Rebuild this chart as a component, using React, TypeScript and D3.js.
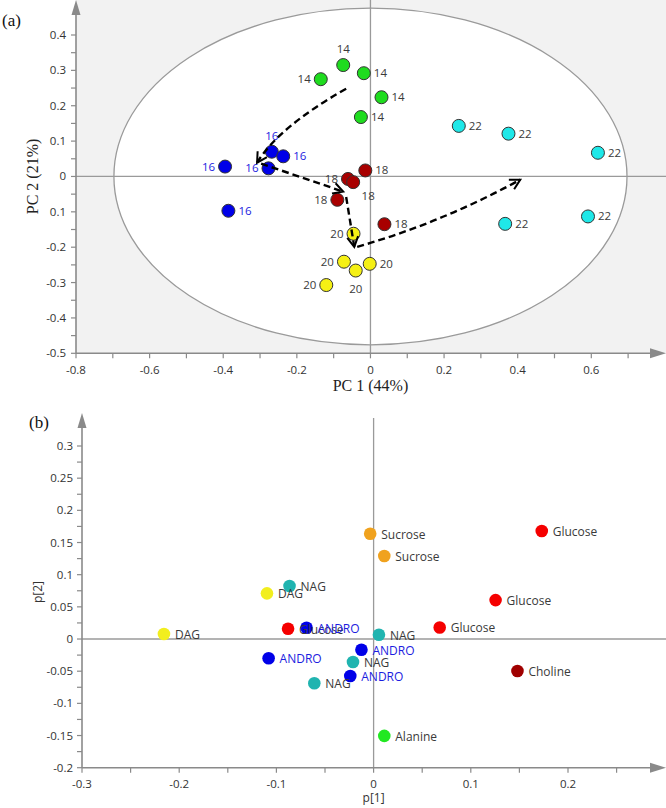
import React from "react";
import * as d3 from "d3";

// ---------- Panel (a): PCA scores ----------
const scoreGroup = [
  "14", "14", "14", "14", "14",
  "16", "16", "16", "16", "16",
  "18", "18", "18", "18", "18",
  "20", "20", "20", "20", "20",
  "22", "22", "22", "22", "22",
];
const scoreX = [
  -0.135, -0.074, -0.018, 0.030, -0.026,
  -0.395, -0.268, -0.237, -0.277, -0.386,
  -0.014, -0.061, -0.047, -0.090, 0.038,
  -0.046, -0.072, -0.040, -0.002, -0.120,
  0.240, 0.375, 0.618, 0.366, 0.591,
];
const scoreY = [
  0.275, 0.315, 0.292, 0.224, 0.168,
  0.028, 0.070, 0.057, 0.023, -0.097,
  0.017, -0.007, -0.016, -0.066, -0.135,
  -0.162, -0.241, -0.266, -0.247, -0.307,
  0.143, 0.121, 0.067, -0.134, -0.113,
];
const scoreLabelPos = [
  "left", "top", "right", "right", "right",
  "left", "top", "right", "left", "right",
  "right", "left", "belowright", "left", "right",
  "left", "left", "bottom", "right", "left",
  "right", "right", "right", "right", "right",
];
const groupFill: Record<string, string> = {
  "14": "#1fdc1f",
  "16": "#0000e8",
  "18": "#a80000",
  "20": "#f5f014",
  "22": "#1fe8e8",
};
const groupText: Record<string, string> = {
  "14": "#3a3a3a",
  "16": "#1c1ce0",
  "18": "#3a3a3a",
  "20": "#3a3a3a",
  "22": "#3a3a3a",
};
const aXTicks = [-0.8, -0.6, -0.4, -0.2, 0, 0.2, 0.4, 0.6];
const aXMinor = [-0.7, -0.5, -0.3, -0.1, 0.1, 0.3, 0.5, 0.7];
const aYTicks = [0.4, 0.3, 0.2, 0.1, 0, -0.1, -0.2, -0.3, -0.4, -0.5];
const aYTickLabels = ["0.4", "0.3", "0.2", "0.1", "0", "0.1", "-0.2", "-0.3", "-0.4", "-0.5"];
const aYMinor = [0.35, 0.25, 0.15, 0.05, -0.05, -0.15, -0.25, -0.35, -0.45];
const ellipseR = [0.697, 0.476];
// trajectory arrows: [start, control, end] in score units
const trajectories: [number, number][][] = [
  [[-0.066, 0.248], [-0.248, 0.141], [-0.308, 0.039]],
  [[-0.297, 0.036], [-0.185, -0.003], [-0.074, -0.043]],
  [[-0.066, -0.058], [-0.055, -0.128], [-0.044, -0.199]],
  [[-0.036, -0.199], [0.195, -0.130], [0.407, -0.009]],
];

// ---------- Panel (b): loadings ----------
const loadName = [
  "Glucose", "Glucose", "Glucose", "Glucose",
  "Sucrose", "Sucrose",
  "NAG", "NAG", "NAG", "NAG",
  "ANDRO", "ANDRO", "ANDRO", "ANDRO",
  "DAG", "DAG",
  "Choline", "Alanine",
];
const loadX = [
  0.173, 0.1255, 0.068, -0.088,
  -0.0035, 0.011,
  -0.0865, 0.0055, -0.0212, -0.061,
  -0.069, -0.0125, -0.024, -0.108,
  -0.1097, -0.2157,
  0.148, 0.011,
];
const loadY = [
  0.168, 0.0605, 0.018, 0.016,
  0.1635, 0.129,
  0.0823, 0.0067, -0.0357, -0.0688,
  0.0176, -0.0166, -0.0575, -0.030,
  0.071, 0.0078,
  -0.0497, -0.1506,
];
const loadFill: Record<string, string> = {
  Glucose: "#f50000",
  Sucrose: "#f0a21e",
  NAG: "#20b4b0",
  ANDRO: "#0000e8",
  DAG: "#f2ee1e",
  Choline: "#a00000",
  Alanine: "#22e822",
};
const loadText: Record<string, string> = {
  Glucose: "#3a3a3a",
  Sucrose: "#3a3a3a",
  NAG: "#3a3a3a",
  ANDRO: "#1c1ce0",
  DAG: "#3a3a3a",
  Choline: "#3a3a3a",
  Alanine: "#3a3a3a",
};
const bXTicks = [-0.3, -0.2, -0.1, 0, 0.1, 0.2];
const bXMinor = [-0.25, -0.15, -0.05, 0.05, 0.15, 0.25];
const bYTicks = [0.3, 0.25, 0.2, 0.15, 0.1, 0.05, 0, -0.05, -0.1, -0.15, -0.2];
const bYMinor = [0.275, 0.225, 0.175, 0.125, 0.075, 0.025, -0.025, -0.075, -0.125, -0.175];

const SANS = "'Open Sans', 'Noto Sans', sans-serif";
const SERIF = "'Liberation Serif', 'DejaVu Serif', serif";
const AXIS = "#8a8a8a";
const ZERO = "#9a9a9a";

export default function App() {
  // panel a scales
  const xa = d3.scaleLinear().domain([-0.8, 0.6]).range([76, 591.3]);
  const ya = d3.scaleLinear().domain([-0.5, 0.4]).range([353.3, 35]);
  // panel b scales
  const xb = d3.scaleLinear().domain([-0.3, 0.2]).range([82, 568]);
  const yb = d3.scaleLinear().domain([-0.2, 0.3]).range([767.7, 446]);

  const aLeft = xa(-0.8);
  const aBottom = ya(-0.5);
  const bLeft = xb(-0.3);
  const bBottom = yb(-0.2);
  const W = 666;

  const labelOffset = (pos: string): [number, number, string] => {
    switch (pos) {
      case "left":
        return [-10, 4, "end"];
      case "top":
        return [0, -12, "middle"];
      case "bottom":
        return [0, 22, "middle"];
      case "belowright":
        return [15, 18, "middle"];
      default:
        return [10, 4, "start"];
    }
  };

  const trajPaths = trajectories.map((t) => {
    const p = d3.path();
    p.moveTo(xa(t[0][0]), ya(t[0][1]));
    p.quadraticCurveTo(xa(t[1][0]), ya(t[1][1]), xa(t[2][0]), ya(t[2][1]));
    return p.toString();
  });

  return (
    <svg
      width={666}
      height={808}
      style={{ position: "absolute", left: 0, top: 0, background: "#fff" }}
    >
      <defs>
        <marker
          id="vhead"
          markerUnits="userSpaceOnUse"
          markerWidth={14}
          markerHeight={14}
          refX={11}
          refY={6}
          orient="auto"
          viewBox="0 0 14 12"
        >
          <path d="M1,0.5 L11,6 L1,11.5" fill="none" stroke="#000" strokeWidth={2} />
        </marker>
        <clipPath id="clipA">
          <rect x={aLeft} y={0} width={W - aLeft} height={aBottom} />
        </clipPath>
      </defs>

      {/* ===== Panel (a) ===== */}
      <rect x={aLeft} y={0} width={W - aLeft} height={aBottom} fill="#f2f2f2" />
      <g clipPath="url(#clipA)">
        <ellipse
          cx={xa(0)}
          cy={ya(0)}
          rx={xa(ellipseR[0]) - xa(0)}
          ry={ya(0) - ya(ellipseR[1])}
          fill="#fff"
          stroke="#9a9a9a"
          strokeWidth={1.3}
        />
      </g>
      <line x1={xa(0)} x2={xa(0)} y1={0} y2={aBottom} stroke={ZERO} strokeWidth={1.3} />
      <line x1={aLeft} x2={W} y1={ya(0)} y2={ya(0)} stroke={ZERO} strokeWidth={1.3} />

      {/* axes a */}
      <line x1={aLeft} x2={aLeft} y1={aBottom} y2={4} stroke={AXIS} strokeWidth={1.6} />
      <path d={`M${aLeft},0 L${aLeft - 4.5},15 L${aLeft + 4.5},15 Z`} fill={AXIS} />
      <line x1={aLeft} x2={W - 4} y1={aBottom} y2={aBottom} stroke={AXIS} strokeWidth={1.6} />
      <path d={`M${W},${aBottom} L${W - 16},${aBottom - 5} L${W - 16},${aBottom + 5} Z`} fill={AXIS} />
      {aXTicks.concat(aXMinor).map((v, i) => (
        <line key={"axt" + i} x1={xa(v)} x2={xa(v)} y1={aBottom} y2={aBottom + 5} stroke={AXIS} strokeWidth={1.2} />
      ))}
      {aXTicks.map((v, i) => (
        <text key={"axl" + i} x={xa(v)} y={aBottom + 21} fontSize={11.5} fontFamily={SANS} fill="#333" textAnchor="middle">
          {v === 0 ? "0" : d3.format(".1f")(v).replace("−", "-")}
        </text>
      ))}
      {aYTicks.concat(aYMinor).map((v, i) => (
        <line key={"ayt" + i} x1={aLeft - 5} x2={aLeft} y1={ya(v)} y2={ya(v)} stroke={AXIS} strokeWidth={1.2} />
      ))}
      {aYTicks.map((v, i) => (
        <text key={"ayl" + i} x={aLeft - 10} y={ya(v) + 4} fontSize={11.5} fontFamily={SANS} fill="#333" textAnchor="end">
          {aYTickLabels[i]}
        </text>
      ))}
      <text x={xa(0)} y={391} fontSize={16} fontFamily={SERIF} fill="#222" textAnchor="middle">
        PC 1 (44%)
      </text>
      <text
        transform={`translate(38,${ya(0)}) rotate(-90)`}
        fontSize={16}
        fontFamily={SERIF}
        fill="#222"
        textAnchor="middle"
      >
        PC 2 (21%)
      </text>
      <text x={2} y={26} fontSize={17} fontFamily={SERIF} fill="#111">
        (a)
      </text>

      {/* score points */}
      {scoreX.map((v, i) => (
        <circle
          key={"sp" + i}
          cx={xa(v)}
          cy={ya(scoreY[i])}
          r={6.5}
          fill={groupFill[scoreGroup[i]]}
          stroke="#333"
          strokeWidth={1}
        />
      ))}
      {scoreX.map((v, i) => {
        const [dx, dy, anchor] = labelOffset(scoreLabelPos[i]);
        return (
          <text
            key={"sl" + i}
            x={xa(v) + dx}
            y={ya(scoreY[i]) + dy}
            fontSize={11.5}
            fontFamily={SANS}
            fill={groupText[scoreGroup[i]]}
            textAnchor={anchor}
          >
            {scoreGroup[i]}
          </text>
        );
      })}

      {/* trajectory arrows */}
      {trajPaths.map((d, i) => (
        <path
          key={"tr" + i}
          d={d}
          fill="none"
          stroke="#000"
          strokeWidth={2.4}
          strokeDasharray="7,4"
          markerEnd="url(#vhead)"
        />
      ))}

      {/* ===== Panel (b) ===== */}
      <line x1={xb(0)} x2={xb(0)} y1={418} y2={bBottom} stroke={ZERO} strokeWidth={1.3} />
      <line x1={bLeft} x2={W} y1={yb(0)} y2={yb(0)} stroke={ZERO} strokeWidth={1.3} />

      <line x1={bLeft} x2={bLeft} y1={bBottom} y2={418} stroke={AXIS} strokeWidth={1.6} />
      <path d={`M${bLeft},413 L${bLeft - 4.5},428 L${bLeft + 4.5},428 Z`} fill={AXIS} />
      <line x1={bLeft} x2={W - 4} y1={bBottom} y2={bBottom} stroke={AXIS} strokeWidth={1.6} />
      <path d={`M${W},${bBottom} L${W - 16},${bBottom - 5} L${W - 16},${bBottom + 5} Z`} fill={AXIS} />
      {bXTicks.concat(bXMinor).map((v, i) => (
        <line key={"bxt" + i} x1={xb(v)} x2={xb(v)} y1={bBottom} y2={bBottom + 5} stroke={AXIS} strokeWidth={1.2} />
      ))}
      {bXTicks.map((v, i) => (
        <text key={"bxl" + i} x={xb(v)} y={bBottom + 20} fontSize={11.5} fontFamily={SANS} fill="#333" textAnchor="middle">
          {v === 0 ? "0" : String(v)}
        </text>
      ))}
      {bYTicks.concat(bYMinor).map((v, i) => (
        <line key={"byt" + i} x1={bLeft - 5} x2={bLeft} y1={yb(v)} y2={yb(v)} stroke={AXIS} strokeWidth={1.2} />
      ))}
      {bYTicks.map((v, i) => (
        <text key={"byl" + i} x={bLeft - 9} y={yb(v) + 4} fontSize={11.5} fontFamily={SANS} fill="#333" textAnchor="end">
          {v === 0 ? "0" : String(v)}
        </text>
      ))}
      <text x={xb(0)} y={802} fontSize={12} fontFamily={SANS} fill="#333" textAnchor="middle">
        p[1]
      </text>
      <text
        transform={`translate(42,592) rotate(-90)`}
        fontSize={12}
        fontFamily={SANS}
        fill="#333"
        textAnchor="middle"
      >
        p[2]
      </text>
      <text x={29} y={428} fontSize={17} fontFamily={SERIF} fill="#111">
        (b)
      </text>

      {loadX.map((v, i) => (
        <circle key={"lp" + i} cx={xb(v)} cy={yb(loadY[i])} r={6.3} fill={loadFill[loadName[i]]} />
      ))}
      {loadX.map((v, i) => (
        <text
          key={"ll" + i}
          x={xb(v) + 11}
          y={yb(loadY[i]) + 5}
          fontSize={12}
          fontFamily={SANS}
          fill={loadText[loadName[i]]}
        >
          {loadName[i]}
        </text>
      ))}
    </svg>
  );
}
